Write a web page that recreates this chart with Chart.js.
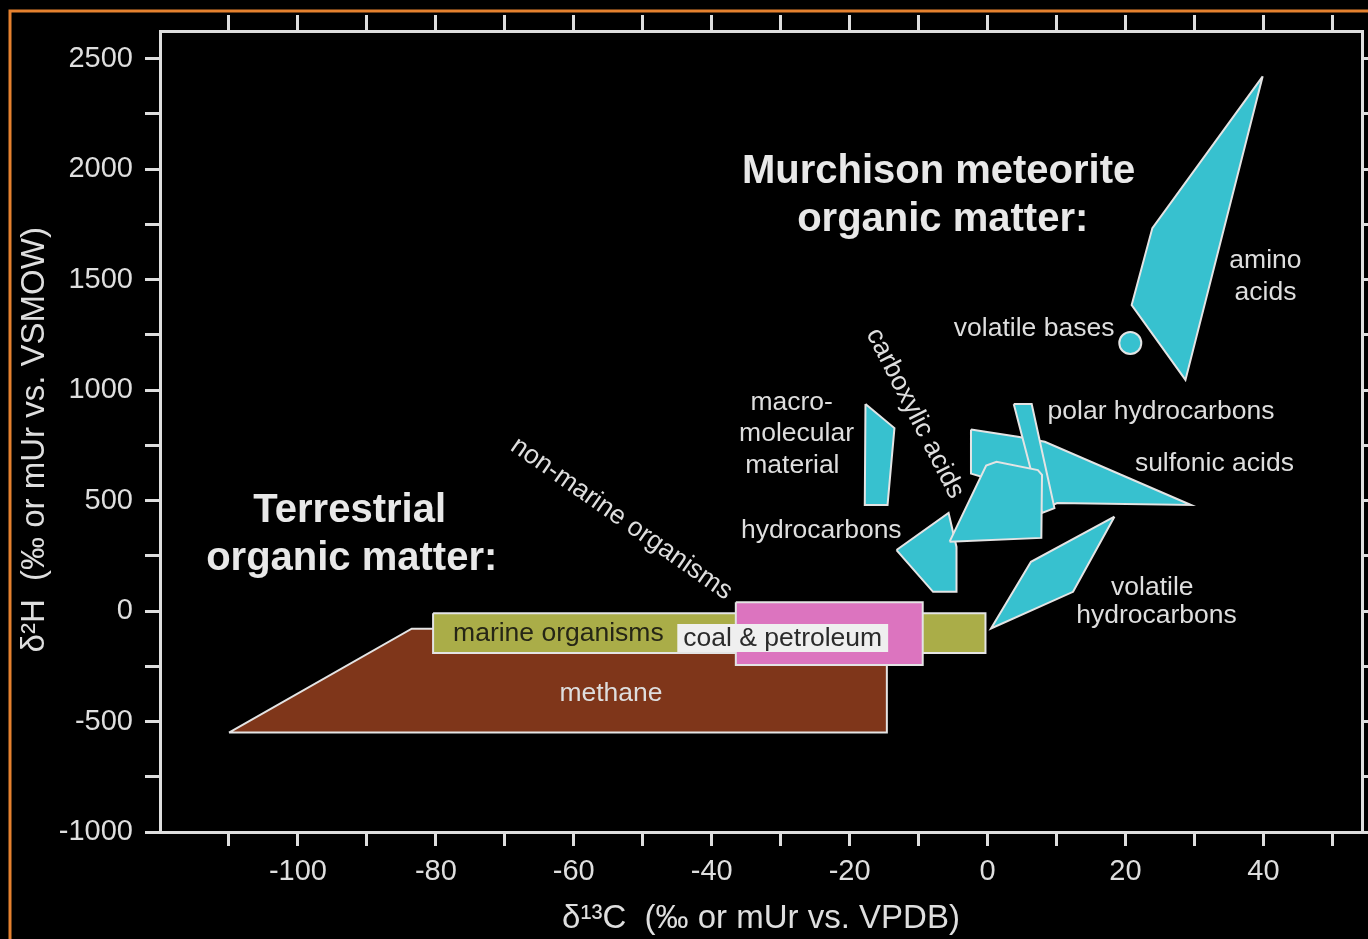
<!DOCTYPE html>
<html>
<head>
<meta charset="utf-8">
<script src="https://cdn.jsdelivr.net/npm/chart.js@4.4.1/dist/chart.umd.min.js"></script>
<style>
  html, body { margin: 0; padding: 0; background: #000; overflow: hidden; }
  canvas { display: block; }
</style>
</head>
<body>
<canvas id="chart" width="1375" height="939"></canvas>
<script>
// Isotope fields as closed outlines of [δ13C, δ2H] vertices (‰)
const methane              = [[-110, -550], [-83.5, -80], [-14.6, -80], [-14.6, -550]];
const marineOrganisms      = [[-80.4, -10], [-0.3, -10], [-0.3, -190], [-80.4, -190]];
const coalPetroleum        = [[-36.5, 40], [-9.4, 40], [-9.4, -244], [-36.5, -244]];
const aminoAcids           = [[39.9, 2420], [23.9, 1733], [20.9, 1385], [28.7, 1046]];
const volatileBases        = [[20.7, 1213]];
const macromolecular       = [[-17.7, 937], [-13.5, 828], [-14.5, 480], [-17.8, 480]];
const sulfonicAcids        = [[-2.4, 822], [4.4, 789], [8.3, 766], [29.5, 480], [10.1, 489], [7.8, 457], [0, 600], [-2.4, 622]];
const polarHydrocarbons    = [[3.8, 937], [6.4, 937], [9.5, 495], [9.7, 466], [7.9, 444]];
const hydrocarbons         = [[-13.2, 276], [-5.65, 444], [-4.5, 290], [-4.5, 87], [-7.9, 87]];
const carboxylicAcids      = [[-5.5, 314], [-0.2, 658], [1.3, 675], [7.3, 638], [7.9, 616], [7.8, 331]];
const volatileHydrocarbons = [[18.4, 427], [6.3, 223], [0.5, -79], [12.4, 87]];

// Axis ticks
const xTicks = [-110, -100, -90, -80, -70, -60, -50, -40, -30, -20, -10, 0, 10, 20, 30, 40, 50];
const xTickLabels = [-100, -80, -60, -40, -20, 0, 20, 40];
const yTicks = [-1000, -750, -500, -250, 0, 250, 500, 750, 1000, 1250, 1500, 1750, 2000, 2250, 2500];
const yTickLabels = [-1000, -500, 0, 500, 1000, 1500, 2000, 2500];

// Region names, anchored in data coordinates
const fieldLabels = [
  { text: 'Murchison meteorite', x: -7.1, y: 1991, style: 'heading' },
  { text: 'organic matter:', x: -6.5, y: 1774, style: 'heading' },
  { text: 'Terrestrial', x: -92.5, y: 457, style: 'heading' },
  { text: 'organic matter:', x: -92.2, y: 240, style: 'heading' },
  { text: 'amino', x: 40.3, y: 1589 },
  { text: 'acids', x: 40.3, y: 1444 },
  { text: 'volatile bases', x: 18.4, y: 1281, align: 'right' },
  { text: 'polar hydrocarbons', x: 8.7, y: 905, align: 'left' },
  { text: 'sulfonic acids', x: 32.9, y: 670 },
  { text: 'macro-', x: -28.4, y: 946 },
  { text: 'molecular', x: -27.7, y: 806 },
  { text: 'material', x: -28.3, y: 661 },
  { text: 'hydrocarbons', x: -24.1, y: 367 },
  { text: 'volatile', x: 23.9, y: 109 },
  { text: 'hydrocarbons', x: 24.5, y: -18 },
  { text: 'methane', x: -54.6, y: -371 },
  { text: 'marine organisms', x: -77.5, y: -99, align: 'left', style: 'dark' },
  { text: 'coal & petroleum', x: -29.7, y: -122, style: 'boxed' },
  { text: 'non-marine organisms', x: -53, y: 421, angle: 35 },
  { text: 'carboxylic acids', x: -10.4, y: 896, angle: 63 }
];

const INK = '#dedede';
const OUTLINE = '#e4e4e4';
const CYAN = '#37c1cf';
const FONT = "'Liberation Sans', Arial, Helvetica, sans-serif";

function region(points, fillColor, order) {
  const closed = points.concat([points[0]]);
  return {
    type: 'line',
    data: closed.map(([x, y]) => ({ x, y })),
    backgroundColor: fillColor,
    borderColor: OUTLINE,
    borderWidth: 2,
    borderJoinStyle: 'miter',
    fill: 'shape',
    tension: 0,
    pointRadius: 0,
    order
  };
}

const datasets = [
  region(methane, '#7f361a', 20),
  region(marineOrganisms, '#aaad48', 19),
  region(coalPetroleum, '#dc74bf', 18),
  region(aminoAcids, CYAN, 10),
  region(macromolecular, CYAN, 10),
  region(sulfonicAcids, CYAN, 9),
  region(polarHydrocarbons, CYAN, 8),
  region(hydrocarbons, CYAN, 7),
  region(carboxylicAcids, CYAN, 6),
  region(volatileHydrocarbons, CYAN, 5),
  {
    type: 'line',
    data: volatileBases.map(([x, y]) => ({ x, y })),
    showLine: false,
    pointRadius: 11,
    pointBackgroundColor: CYAN,
    pointBorderColor: OUTLINE,
    pointBorderWidth: 2,
    order: 4
  }
];

// Dark page frame with the orange rule along its top and left edges
const framePlugin = {
  id: 'frame',
  beforeDraw(chart) {
    const ctx = chart.ctx;
    ctx.save();
    ctx.fillStyle = '#000';
    ctx.fillRect(0, 0, chart.width, chart.height);
    ctx.strokeStyle = '#e5812f';
    ctx.lineWidth = 3;
    ctx.beginPath();
    ctx.moveTo(10, chart.height);
    ctx.lineTo(10, 11);
    ctx.lineTo(chart.width, 11);
    ctx.stroke();
    ctx.restore();
  }
};

// Region names drawn at their data anchors
const labelPlugin = {
  id: 'fieldLabels',
  afterDatasetsDraw(chart) {
    const ctx = chart.ctx;
    const sx = chart.scales.x, sy = chart.scales.y;
    fieldLabels.forEach(l => {
      const px = sx.getPixelForValue(l.x);
      const py = sy.getPixelForValue(l.y);
      ctx.save();
      ctx.translate(px, py);
      if (l.angle) ctx.rotate(l.angle * Math.PI / 180);
      ctx.textBaseline = 'middle';
      ctx.textAlign = l.align || 'center';
      if (l.style === 'heading') {
        ctx.font = `bold 40px ${FONT}`;
        ctx.fillStyle = '#e8e8e8';
      } else {
        ctx.font = `26.5px ${FONT}`;
        ctx.fillStyle = INK;
      }
      if (l.style === 'dark') ctx.fillStyle = '#262616';
      if (l.style === 'boxed') {
        const w = ctx.measureText(l.text).width;
        ctx.fillStyle = '#efefef';
        ctx.fillRect(-w / 2 - 6, -14, w + 12, 28);
        ctx.fillStyle = '#2b2b2b';
      }
      ctx.fillText(l.text, 0, 1);
      ctx.restore();
    });
  }
};

const axisGrid = len => ({ drawOnChartArea: false, drawTicks: true, tickLength: len, color: INK, lineWidth: 3 });
const axisBorder = { display: true, color: INK, width: 3 };
const tickFont = { family: FONT, size: 29 };
const titleFont = { family: FONT, size: 33 };

new Chart(document.getElementById('chart'), {
  type: 'line',
  data: { datasets },
  options: {
    responsive: false,
    devicePixelRatio: 1,
    animation: false,
    events: [],
    layout: { padding: 0 },
    plugins: { legend: { display: false }, tooltip: { enabled: false } },
    scales: {
      x: {
        type: 'linear', position: 'bottom', min: -120, max: 54.3,
        afterBuildTicks: s => { s.ticks = xTicks.map(v => ({ value: v })); },
        afterFit: s => { s.height = 107; },
        grid: axisGrid(14), border: axisBorder,
        ticks: {
          autoSkip: false, maxRotation: 0, padding: 9, color: INK, font: tickFont,
          callback: v => xTickLabels.includes(v) ? String(v) : ''
        },
        title: { display: true, text: 'δ¹³C  (‰ or mUr vs. VPDB)', color: INK, font: titleFont, padding: { top: 0, bottom: 0 } }
      },
      x2: {
        type: 'linear', position: 'top', min: -120, max: 54.3,
        afterBuildTicks: s => { s.ticks = xTicks.map(v => ({ value: v })); },
        afterFit: s => { s.height = 31; },
        grid: axisGrid(16), border: axisBorder,
        ticks: { display: false, padding: 0 }
      },
      y: {
        type: 'linear', position: 'left', min: -1000, max: 2625,
        afterBuildTicks: s => { s.ticks = yTicks.map(v => ({ value: v })); },
        afterFit: s => { s.width = 160; },
        grid: axisGrid(15), border: axisBorder,
        ticks: {
          autoSkip: false, padding: 12, color: INK, font: tickFont,
          callback: v => yTickLabels.includes(v) ? String(v) : ''
        },
        title: { display: true, text: 'δ²H  (‰ or mUr vs. VSMOW)\u2002', color: INK, font: titleFont, padding: { top: 15, bottom: 0 } }
      },
      y2: {
        type: 'linear', position: 'right', min: -1000, max: 2625,
        afterBuildTicks: s => { s.ticks = yTicks.map(v => ({ value: v })); },
        afterFit: s => { s.width = 6; },
        grid: axisGrid(6), border: axisBorder,
        ticks: { display: false, padding: 0 }
      }
    }
  },
  plugins: [framePlugin, labelPlugin]
});
</script>
</body>
</html>
